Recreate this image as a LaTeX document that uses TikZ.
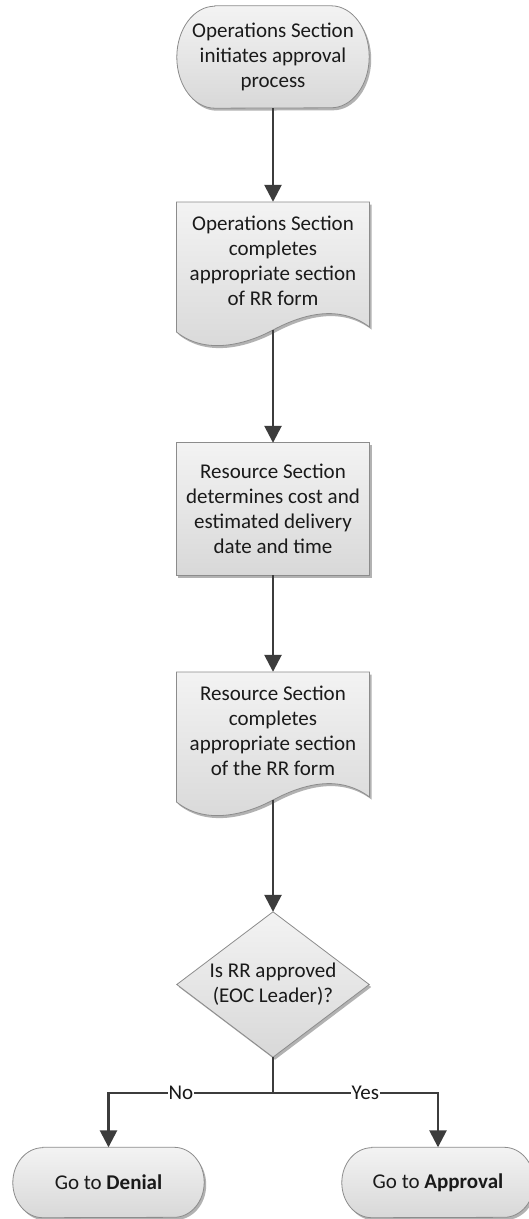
\documentclass[tikz,border=0pt]{standalone}
\usepackage{fontspec}
\setmainfont{Carlito}
\usetikzlibrary{arrows.meta,shadows,backgrounds}
\definecolor{textcol}{HTML}{1A1A1A}
\definecolor{bordercol}{HTML}{8C8C8C}
\definecolor{fillTop}{HTML}{F3F3F3}
\definecolor{fillBot}{HTML}{D8D8D8}
\definecolor{arrowcol}{HTML}{3C3C3C}
\tikzset{
  txt/.style={align=center, font=\fontsize{21}{25}\selectfont, text=textcol, inner sep=0pt},
  shapestyle/.style={draw=bordercol, line width=0.8pt, top color=fillTop, bottom color=fillBot,
    drop shadow={shadow xshift=2pt, shadow yshift=-2.5pt, opacity=0.3, fill=black}},
  flow/.style={draw=arrowcol, line width=2.6pt, -{Triangle[length=17pt,width=17pt]}},
  plainflow/.style={draw=arrowcol, line width=2.6pt},
  lbl/.style={font=\fontsize{21}{25}\selectfont, text=textcol, fill=white, inner xsep=1pt, inner ysep=0pt},
}
\newcommand\termshape[3]{%
  \path[shapestyle] ([xshift=#2]#1.north west) -- ([xshift=-#2]#1.north east)
    arc[start angle=90,end angle=-90,x radius=#2,y radius=#3]
    -- ([xshift=#2]#1.south west)
    arc[start angle=270,end angle=90,x radius=#2,y radius=#3] -- cycle;}
\newcommand\docshape[1]{%
  \begin{scope}[shift={(#1.center)}]
    \path[shapestyle] (-96.5,-59) -- (96.5,-59) -- (96.5,66)
      .. controls (67,44) and (32,52) .. (0,69)
      .. controls (-28,84) and (-68,94) .. (-96.5,71) -- cycle;
  \end{scope}}
\begin{document}
\begin{tikzpicture}[x=1pt,y=-1pt]
\useasboundingbox (0,0) rectangle (528,1219);
\node[txt, minimum width=192pt, minimum height=102pt] (t1) at (273,57) {Operations Section\\initiates approval\\process};
\node[txt, minimum width=193pt, minimum height=118pt] (d1) at (273,261) {Operations Section\\completes\\appropriate section\\of RR form};
\node[txt, minimum width=193pt, minimum height=132pt] (p1) at (273,509) {Resource Section\\determines cost and\\estimated delivery\\date and time};
\node[txt, minimum width=193pt, minimum height=118pt] (d2) at (273,731) {Resource Section\\completes\\appropriate section\\of the RR form};
\node[txt, minimum width=192pt, minimum height=145pt] (dia) at (273,984.5) {Is RR approved\\(EOC Leader)?};
\coordinate (jn) at (273,1093);
\node[txt, minimum width=191pt, minimum height=70pt] (den) at (108.5,1182.5) {Go to \textbf{Denial}};
\node[txt, minimum width=192pt, minimum height=70pt] (app) at (438,1182.5) {Go to \textbf{Approval}};
\begin{pgfonlayer}{background}
  \fill[white] (0,0) rectangle (528,1219);
  \termshape{t1}{38pt}{51pt}
  \docshape{d1}
  \path[shapestyle] (p1.north west) rectangle (p1.south east);
  \docshape{d2}
  \path[shapestyle] (dia.north) -- (dia.east) -- (dia.south) -- (dia.west) -- cycle;
  \termshape{den}{30pt}{35pt}
  \termshape{app}{30pt}{35pt}
\end{pgfonlayer}
\draw[flow] (t1.south) -- (d1.north);
\draw[flow] ([yshift=-10pt]d1.south) -- (p1.north);
\draw[flow] (p1.south) -- (d2.north);
\draw[flow] ([yshift=-10pt]d2.south) -- (dia.north);
\draw[plainflow] (dia.south) -- (jn);
\draw[flow] (jn) -| node[lbl,pos=0.28]{No} (den.north);
\draw[flow] (jn) -| node[lbl,pos=0.28]{Yes} (app.north);
\end{tikzpicture}
\end{document}
